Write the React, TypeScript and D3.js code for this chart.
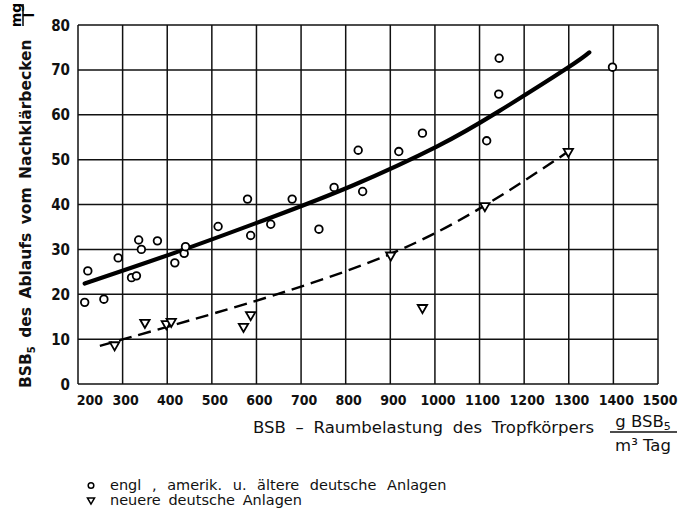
import React, { useEffect, useRef } from "react";
import * as d3 from "d3";

// measured points, older plants (circles)
const circleX = [215, 222, 258, 290, 320, 331, 336, 342, 378, 417, 438, 441, 514, 580, 587, 632, 680, 740, 774, 838, 828, 919, 972, 1116, 1143, 1144, 1398];
const circleY = [18.2, 25.2, 18.9, 28.1, 23.7, 24.1, 32.1, 30.0, 31.9, 27.0, 29.1, 30.6, 35.1, 41.2, 33.1, 35.6, 41.2, 34.5, 43.8, 42.9, 52.1, 51.8, 55.9, 54.2, 64.6, 72.6, 70.6];

// newer German plants (triangles)
const triX = [282, 350, 398, 409, 571, 587, 901, 972, 1112, 1299];
const triY = [8.7, 13.7, 13.4, 13.9, 12.8, 15.4, 28.7, 17.0, 39.7, 51.8];

// hand drawn trend lines
const solidX = [215, 424, 630, 817, 1004, 1142, 1295, 1346];
const solidY = [22.4, 29.5, 37.0, 44.3, 52.9, 60.7, 70.3, 73.9];
const dashX = [249, 402, 640, 903, 1112, 1293];
const dashY = [8.5, 12.8, 19.8, 29.1, 39.8, 51.4];

const xTicks = [200, 300, 400, 500, 600, 700, 800, 900, 1000, 1100, 1200, 1300, 1400, 1500];
const yTicks = [0, 10, 20, 30, 40, 50, 60, 70, 80];

const legendLabels = ["engl , amerik. u. ältere deutsche Anlagen", "neuere deutsche Anlagen"];

const FONT = "'DejaVu Sans Condensed', 'DejaVu Sans', sans-serif";
const FONT_W = "'DejaVu Sans', sans-serif";

export default function App() {
  const ref = useRef<SVGSVGElement>(null);

  useEffect(() => {
    const svg = d3.select(ref.current);
    svg.selectAll("*").remove();

    const x = d3.scaleLinear().domain([200, 1500]).range([78, 658]);
    const y = d3.scaleLinear().domain([0, 80]).range([384, 25]);

    const g = svg.append("g");

    // grid
    g.selectAll(".vgrid")
      .data(xTicks)
      .enter()
      .append("line")
      .attr("x1", (d) => x(d))
      .attr("x2", (d) => x(d))
      .attr("y1", y(0))
      .attr("y2", y(80))
      .attr("stroke", "#111")
      .attr("stroke-width", 1.5);

    g.selectAll(".hgrid")
      .data(yTicks)
      .enter()
      .append("line")
      .attr("x1", x(200))
      .attr("x2", x(1500))
      .attr("y1", (d) => y(d))
      .attr("y2", (d) => y(d))
      .attr("stroke", "#111")
      .attr("stroke-width", 1.5);

    // tick labels
    g.selectAll(".xlab")
      .data(xTicks)
      .enter()
      .append("text")
      .attr("x", (d) => x(d) + (d === 200 ? 12 : d === 1500 ? 2 : 3))
      .attr("y", 405)
      .attr("text-anchor", "middle")
      .attr("font-family", FONT)
      .attr("font-stretch", "condensed")
      .attr("font-weight", "bold")
      .attr("font-size", 14)
      .attr("fill", "#111")
      .text((d) => d);

    g.selectAll(".ylab")
      .data(yTicks)
      .enter()
      .append("text")
      .attr("x", 70)
      .attr("y", (d) => y(d) + 5.5)
      .attr("text-anchor", "end")
      .attr("font-family", FONT)
      .attr("font-stretch", "condensed")
      .attr("font-weight", "bold")
      .attr("font-size", 15)
      .attr("fill", "#111")
      .text((d) => d);

    // trend lines
    const line = d3
      .line<number>()
      .x((d) => x(d))
      .curve(d3.curveNatural);

    g.append("path")
      .attr("d", line.y((d, i) => y(solidY[i]))(solidX))
      .attr("fill", "none")
      .attr("stroke", "#000")
      .attr("stroke-width", 4.2)
      .attr("stroke-linecap", "round");

    g.append("path")
      .attr("d", line.y((d, i) => y(dashY[i]))(dashX))
      .attr("fill", "none")
      .attr("stroke", "#000")
      .attr("stroke-width", 2.4)
      .attr("stroke-dasharray", "13,7");

    // markers
    g.selectAll(".circ")
      .data(circleX)
      .enter()
      .append("circle")
      .attr("cx", (d) => x(d))
      .attr("cy", (d, i) => y(circleY[i]))
      .attr("r", 3.8)
      .attr("fill", "#fff")
      .attr("stroke", "#000")
      .attr("stroke-width", 1.8);

    const tri = d3.symbol().type(d3.symbolTriangle).size(38);
    g.selectAll(".tri")
      .data(triX)
      .enter()
      .append("path")
      .attr("d", tri)
      .attr("transform", (d, i) => `translate(${x(d)},${y(triY[i])}) rotate(180)`)
      .attr("fill", "#fff")
      .attr("stroke", "#000")
      .attr("stroke-width", 1.8);

    // y axis title
    const yt = svg
      .append("text")
      .attr("transform", "translate(31,388) rotate(-90)")
      .attr("font-family", FONT_W)
      .attr("font-weight", "bold")
      .attr("font-size", 15.5)
      .attr("word-spacing", 3)
      .attr("fill", "#111");
    yt.append("tspan").text("BSB");
    yt.append("tspan").attr("font-size", 10).attr("dy", 4).text("5");
    yt.append("tspan").attr("dy", -4).text(" des Ablaufs vom Nachklärbecken");

    const yf = svg.append("g").attr("transform", "translate(23,15) rotate(-90)");
    yf.append("text")
      .attr("x", 0)
      .attr("y", -2)
      .attr("text-anchor", "middle")
      .attr("font-family", FONT_W)
      .attr("font-weight", "bold")
      .attr("font-size", 14)
      .text("mg");
    yf.append("line").attr("x1", -11).attr("x2", 11).attr("y1", 0).attr("y2", 0).attr("stroke", "#111").attr("stroke-width", 1.6);
    yf.append("text")
      .attr("x", 0)
      .attr("y", 11)
      .attr("text-anchor", "middle")
      .attr("font-family", FONT_W)
      .attr("font-weight", "bold")
      .attr("font-size", 14)
      .text("l");

    // x axis title
    svg.append("text")
      .attr("x", 253)
      .attr("y", 433)
      .attr("font-family", FONT_W)
      .attr("font-size", 16.5)
      .attr("word-spacing", 4.5)
      .attr("fill", "#111")
      .text("BSB – Raumbelastung des Tropfkörpers");

    const xf = svg.append("g").attr("transform", "translate(643,432)");
    const num = xf
      .append("text")
      .attr("x", 0)
      .attr("y", -5)
      .attr("text-anchor", "middle")
      .attr("font-family", FONT_W)
      .attr("font-size", 16.5)
      .attr("fill", "#111");
    num.append("tspan").text("g BSB");
    num.append("tspan").attr("font-size", 11).attr("dy", 3).text("5");
    xf.append("line").attr("x1", -33).attr("x2", 34).attr("y1", 0).attr("y2", 0).attr("stroke", "#111").attr("stroke-width", 1.6);
    xf.append("text")
      .attr("x", 0)
      .attr("y", 19)
      .attr("text-anchor", "middle")
      .attr("font-family", FONT_W)
      .attr("font-size", 16.5)
      .attr("fill", "#111")
      .text("m³ Tag");

    // legend
    const lg = svg.append("g").attr("transform", "translate(91,0)");
    lg.append("circle").attr("cx", 0).attr("cy", 485.5).attr("r", 2.8).attr("fill", "none").attr("stroke", "#000").attr("stroke-width", 1.5);
    lg.append("path")
      .attr("d", d3.symbol().type(d3.symbolTriangle).size(22))
      .attr("transform", "translate(0,500) rotate(180)")
      .attr("fill", "none")
      .attr("stroke", "#000")
      .attr("stroke-width", 1.5);
    lg.selectAll(".leg")
      .data(legendLabels)
      .enter()
      .append("text")
      .attr("x", 19)
      .attr("y", (d, i) => 490 + i * 15)
      .attr("font-family", FONT_W)
      .attr("font-size", 14.5)
      .attr("word-spacing", (d, i) => (i === 0 ? 6 : 3))
      .attr("fill", "#111")
      .text((d) => d);
  }, []);

  return (
    <svg
      ref={ref}
      width={679}
      height={514}
      style={{ position: "absolute", left: 0, top: 0, background: "#fff" }}
    />
  );
}
